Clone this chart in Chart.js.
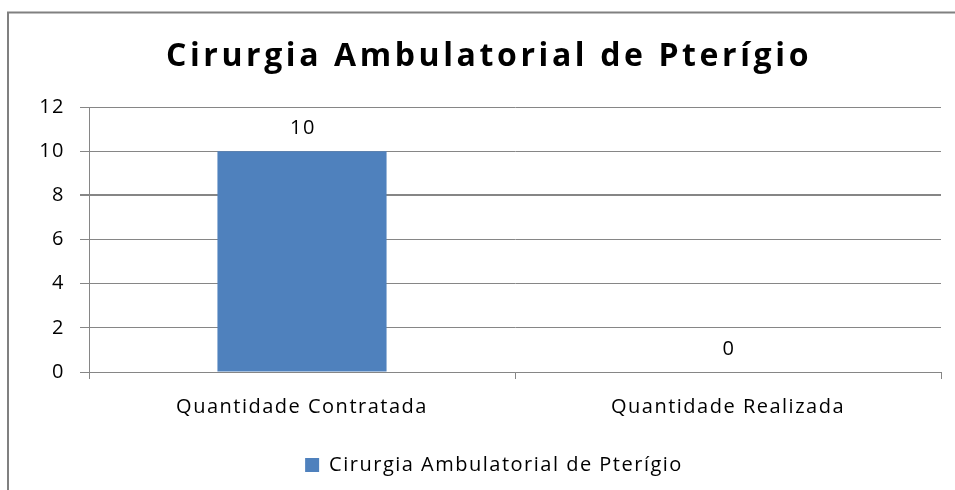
<!DOCTYPE html>
<html>
<head>
<meta charset="utf-8">
<script src="https://cdn.jsdelivr.net/npm/chart.js@4/dist/chart.umd.min.js"></script>
<style>
  html, body { margin: 0; padding: 0; background: #ffffff; }
  #wrap { width: 955px; height: 490px; position: relative; }
</style>
</head>
<body>
<div id="wrap"><canvas id="c" width="955" height="490"></canvas></div>
<script>
const chartTitle = 'Cirurgia Ambulatorial de Pterígio';
const categories = ['Quantidade Contratada', 'Quantidade Realizada'];
const seriesName = 'Cirurgia Ambulatorial de Pterígio';
const seriesValues = [10, 0];
const yTicks = [0, 2, 4, 6, 8, 10, 12];

const FONT = "'Open Sans', 'DejaVu Sans', sans-serif";
const GRID = '#868686';
const SPACING = '1.5px';

const spacing = {
  id: 'spacing',
  beforeUpdate(chart) { chart.ctx.letterSpacing = SPACING; },
  beforeDraw(chart) { chart.ctx.letterSpacing = SPACING; }
};

const legendShift = {
  id: 'legendShift',
  afterLayout(chart) {
    const lg = chart.legend;
    if (lg) { lg.left += 23.5; lg.right += 23.5; }
  }
};

const frame = {
  id: 'frame',
  beforeDraw(chart) {
    const ctx = chart.ctx;
    ctx.save();
    ctx.fillStyle = '#ffffff';
    ctx.fillRect(0, 0, chart.width, chart.height);
    ctx.strokeStyle = '#808080';
    ctx.lineWidth = 2;
    ctx.strokeRect(8, 12.5, chart.width + 20, chart.height + 20);
    ctx.restore();
  }
};

const titleText = {
  id: 'titleText',
  afterDraw(chart) {
    const ctx = chart.ctx;
    ctx.save();
    ctx.letterSpacing = '3.6px';
    ctx.font = "bold 32px " + FONT;
    ctx.fillStyle = '#000000';
    ctx.textAlign = 'center';
    ctx.textBaseline = 'alphabetic';
    ctx.fillText(chartTitle, 489, 66);
    ctx.restore();
  }
};

const valueLabels = {
  id: 'valueLabels',
  afterDatasetsDraw(chart) {
    const ctx = chart.ctx;
    const meta = chart.getDatasetMeta(0);
    ctx.save();
    ctx.letterSpacing = SPACING;
    ctx.font = "20px " + FONT;
    ctx.fillStyle = '#000000';
    ctx.textAlign = 'center';
    ctx.textBaseline = 'alphabetic';
    meta.data.forEach((bar, i) => {
      ctx.fillText(String(chart.data.datasets[0].data[i]), bar.x + 1, bar.y - 17);
    });
    ctx.restore();
  }
};

new Chart(document.getElementById('c'), {
  type: 'bar',
  data: {
    labels: categories,
    datasets: [{
      label: seriesName,
      data: seriesValues,
      backgroundColor: '#4F81BD',
      borderWidth: 0,
      categoryPercentage: 1.0,
      barPercentage: 0.397
    }]
  },
  options: {
    responsive: false,
    animation: false,
    devicePixelRatio: 1,
    layout: { padding: { left: 0, right: 14, top: 107, bottom: 5 } },
    plugins: {
      tooltip: { enabled: false },
      title: { display: false },
      legend: {
        display: true,
        position: 'bottom',
        labels: {
          color: '#000000',
          font: { family: FONT, size: 20 },
          boxWidth: 14,
          boxHeight: 14,
          padding: 10
        }
      }
    },
    scales: {
      x: {
        grid: {
          display: true,
          drawOnChartArea: false,
          drawTicks: true,
          tickLength: 7,
          color: GRID,
          offset: true
        },
        border: { display: true, color: GRID, width: 1 },
        ticks: {
          color: '#000000',
          font: { family: FONT, size: 20 },
          padding: 16,
          maxRotation: 0
        },
        afterFit(scale) { scale.height = 73; }
      },
      y: {
        min: 0,
        max: 12,
        afterBuildTicks(scale) { scale.ticks = yTicks.map(v => ({ value: v })); },
        grid: {
          color: GRID,
          lineWidth: ctx => (ctx.tick && ctx.tick.value === 8 ? 2 : 1),
          drawTicks: true,
          tickLength: 9
        },
        border: { display: true, color: GRID, width: 1 },
        ticks: {
          color: '#000000',
          font: { family: FONT, size: 20 },
          padding: 15
        },
        afterFit(scale) { scale.width = 89; }
      }
    }
  },
  plugins: [spacing, legendShift, frame, titleText, valueLabels]
});
</script>
</body>
</html>
